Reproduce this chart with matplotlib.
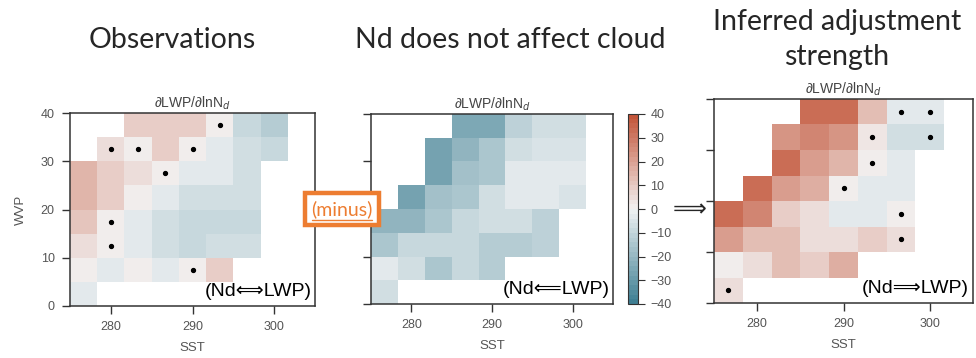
import numpy as np
import matplotlib
matplotlib.use("Agg")
import matplotlib.pyplot as plt
import seaborn as sns
from matplotlib.colors import ListedColormap
from matplotlib.lines import Line2D

sns.set_style("ticks")
plt.rcParams['font.family'] = ['Liberation Sans', 'DejaVu Sans']

nan = np.nan

# bins (SST columns, WVP rows)
sst_edges = [275, 278.33, 281.67, 285, 288.33, 291.67, 295, 298.33, 301.67, 305]
wvp_edges = [0, 5, 10, 15, 20, 25, 30, 35, 40]

# values listed from top row (WVP 35-40) to bottom row (WVP 0-5)
obs = [
    [nan, nan, 8, 8, 8, 0, -10, -14, nan],
    [nan, 4, 1, 8, 0, -4, -7, -10, nan],
    [14, 9, 5, 0, -4, -4, -7, nan, nan],
    [14, 9, 0, -4, -7, -7, -7, nan, nan],
    [11, 0, -4, -7, -9, -9, -9, nan, nan],
    [5, 0, -4, -7, -9, -7, -7, nan, nan],
    [0, -4, 0, -4, 0, 8, nan, nan, nan],
    [-4, nan, nan, nan, nan, nan, nan, nan, nan],
]
no_effect = [
    [nan, nan, nan, -25, -25, -12, -8, -8, nan],
    [nan, nan, -27, -22, -15, -8, -5, -5, nan],
    [nan, nan, -27, -18, -15, -4, -4, -4, nan],
    [nan, -27, -18, -15, -7, -4, -4, -6, nan],
    [-22, -22, -15, -10, -7, -7, -12, nan, nan],
    [-15, -10, -10, -10, -13, -13, -12, nan, nan],
    [-4, -8, -15, -10, -13, nan, nan, nan, nan],
    [-8, nan, nan, nan, nan, nan, nan, nan, nan],
]
inferred = [
    [nan, nan, nan, 33, 33, 12, -4, -4, nan],
    [nan, nan, 22, 27, 22, 3, -8, -8, nan],
    [nan, nan, 33, 20, 14, 0, -4, nan, nan],
    [nan, 33, 20, 16, 0, -4, -4, nan, nan],
    [33, 27, 8, 4, -4, -4, 0, nan, nan],
    [20, 13, 13, 4, 4, 8, 5, nan, nan],
    [0, 4, 13, 9, 17, nan, nan, nan, nan],
    [5, nan, nan, nan, nan, nan, nan, nan, nan],
]

# significant cells (row from top, column)
sig_obs = [(0, 5), (1, 1), (1, 2), (1, 4), (2, 3), (4, 1), (5, 1), (6, 4)]
sig_inferred = [(0, 6), (0, 7), (1, 5), (1, 7), (2, 5), (3, 4), (4, 6), (5, 6), (7, 0)]

cmap = ListedColormap(sns.diverging_palette(220, 20, n=40))

W, H = 976, 358
fig = plt.figure(figsize=(W / 100, H / 100), dpi=100)


def px(l, r, t, b):
    return [l / W, 1 - b / H, (r - l) / W, (b - t) / H]


def panel(rect, data, sig, label, ylabels):
    ax = fig.add_axes(rect)
    arr = np.array(data, dtype=float)[::-1]
    mesh = ax.pcolormesh(sst_edges, wvp_edges, arr, cmap=cmap, vmin=-40, vmax=40)
    xc = [(sst_edges[i] + sst_edges[i + 1]) / 2 for i in range(len(sst_edges) - 1)]
    yc = [(wvp_edges[i] + wvp_edges[i + 1]) / 2 for i in range(len(wvp_edges) - 1)][::-1]
    for r, c in sig:
        ax.plot(xc[c], yc[r], 'o', color='k', ms=2.8)
    ax.set_xlim(275, 305)
    ax.set_ylim(0, 40)
    ax.set_xticks([280, 290, 300])
    ax.set_yticks([0, 10, 20, 30, 40])
    if not ylabels:
        ax.set_yticklabels([])
    ax.tick_params(labelsize=9, colors='#333', labelcolor='#555', length=6, width=1, pad=5)
    for s in ax.spines.values():
        s.set_color('#333')
        s.set_linewidth(1.1)
    ax.set_xlabel("SST", fontsize=9.5, color='#555', labelpad=6)
    ax.set_title(r"∂LWP/∂lnN$_d$", fontsize=10, color='#444', pad=4)
    ax.text(0.985, 0.03, label, transform=ax.transAxes, ha='right', va='bottom',
            fontsize=14, color='k')
    return ax, mesh


ax1, _ = panel(px(70, 315, 113, 306), obs, sig_obs, "(Nd⟺LWP)", True)
ax1.set_ylabel("WVP", fontsize=9.5, color='#555', labelpad=10)
ax2, mesh = panel(px(371, 613, 114, 304), no_effect, [], "(Nd⟸LWP)", False)
ax3, _ = panel(px(714, 973, 99, 303), inferred, sig_inferred, "(Nd⟹LWP)", False)

cax = fig.add_axes(px(628, 638, 114, 304))
cb = fig.colorbar(mesh, cax=cax, ticks=[-40, -30, -20, -10, 0, 10, 20, 30, 40])
cb.outline.set_edgecolor('#333')
cb.ax.tick_params(labelsize=9, colors='#333', labelcolor='#555', length=5, pad=4)

big = ['Lato', 'DejaVu Sans']
fig.text(172 / W, 1 - 40 / H, "Observations", ha='center', va='center', fontsize=20.5, family=big)
fig.text(510 / W, 1 - 40 / H, "Nd does not affect cloud", ha='center', va='center', fontsize=20.5, family=big)
fig.text(837 / W, 1 - 22 / H, "Inferred adjustment", ha='center', va='center', fontsize=20.5, family=big)
fig.text(837 / W, 1 - 57 / H, "strength", ha='center', va='center', fontsize=20.5, family=big)

fig.text(690 / W, 1 - 209 / H, "⟹", ha='center', va='center', fontsize=17, family=['DejaVu Sans'])

fig.text(342 / W, 1 - 209 / H, "(minus)", ha='center', va='center', fontsize=14, color='#ed7d31',
         family=big, zorder=5,
         bbox=dict(boxstyle='square,pad=0.35', fc='white', ec='#ed7d31', lw=3.2))
fig.add_artist(Line2D([312 / W, 372 / W], [1 - 219.5 / H, 1 - 219.5 / H], color='#ed7d31',
                      lw=1, zorder=10))

fig.savefig("out.png", dpi=100)
